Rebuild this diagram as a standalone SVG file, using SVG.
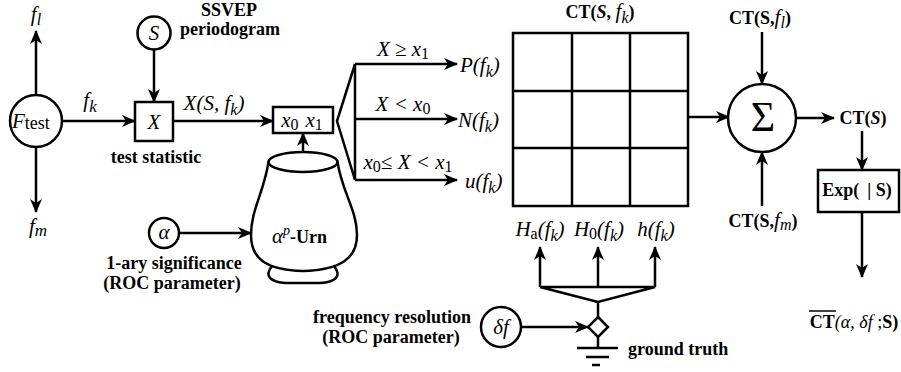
<svg xmlns="http://www.w3.org/2000/svg" width="901" height="372" viewBox="0 0 901 372" font-family="'Liberation Serif', 'Times New Roman', 'DejaVu Serif', serif">
<defs>
<style>
.ln{stroke:#000;stroke-width:2.5;fill:none;stroke-linecap:butt}
.ar{stroke:#000;stroke-width:2.5;fill:none;marker-end:url(#ah)}
.sh{stroke:#000;stroke-width:2.5;fill:#fff}
text{font-family:'Liberation Serif','Times New Roman','DejaVu Serif',serif;fill:#000}
.b{font-weight:bold;font-size:18px}
.m{font-style:italic;font-size:21px}
.up{font-style:normal}
.it{font-style:italic}
.s{font-size:16px}
</style>
<marker id="ah" viewBox="0 0 14 12" refX="13" refY="6" markerWidth="14" markerHeight="12" markerUnits="userSpaceOnUse" orient="auto">
<path d="M0,0 L14,6 L0,12 L4,6 z" fill="#000"/>
</marker>
</defs>

<g id="connectors">
<line class="ar" x1="36" y1="95" x2="36" y2="31"/>
<line class="ar" x1="36" y1="147" x2="36" y2="212"/>
<line class="ar" x1="62" y1="121" x2="135" y2="121"/>
<line class="ar" x1="154" y1="50" x2="154" y2="102"/>
<line class="ar" x1="173" y1="121" x2="273" y2="121"/>
<line class="ar" x1="303" y1="166" x2="303" y2="133"/>
<polyline class="ln" points="355,64 337,121 355,180"/>
<line class="ln" x1="355" y1="64" x2="355" y2="180"/>
<line class="ar" x1="355" y1="64" x2="457" y2="64"/>
<line class="ar" x1="355" y1="119" x2="457" y2="119"/>
<line class="ar" x1="355" y1="180" x2="457" y2="180"/>
<line class="ar" x1="688" y1="117" x2="729" y2="117"/>
<line class="ar" x1="762" y1="32" x2="762" y2="84"/>
<line class="ar" x1="762" y1="206" x2="762" y2="152"/>
<line class="ar" x1="796" y1="118" x2="834" y2="118"/>
<line class="ar" x1="862" y1="131" x2="862" y2="170"/>
<line class="ar" x1="862" y1="212" x2="862" y2="277"/>
<line class="ar" x1="179" y1="233" x2="251" y2="233"/>
<line class="ar" x1="521" y1="327" x2="588" y2="327"/>
<line class="ln" x1="598" y1="317" x2="598" y2="302"/>
<polygon class="ln" points="598,302 540,287 655,287"/>
<line class="ar" x1="540" y1="287" x2="540" y2="247"/>
<line class="ar" x1="598" y1="287" x2="598" y2="247"/>
<line class="ar" x1="655" y1="287" x2="655" y2="247"/>
<line class="ln" x1="598" y1="337" x2="598" y2="348"/>
<line class="ln" x1="577" y1="348" x2="618" y2="348"/>
<line class="ln" x1="586" y1="357" x2="609" y2="357"/>
<line class="ln" x1="592" y1="365" x2="600" y2="365"/>
</g>

<g id="ftest">
<circle class="sh" cx="36" cy="121" r="26"/>
<text x="12" y="128" class="m" font-size="23">F<tspan class="up" font-size="18" dy="1">test</tspan></text>
</g>
<text x="36" y="21" class="m" font-size="23" text-anchor="middle">f<tspan class="s" dy="4">l</tspan></text>
<text x="38" y="233" class="m" font-size="23" text-anchor="middle">f<tspan font-size="17" dy="3">m</tspan></text>
<text x="90" y="107" class="m" font-size="23" text-anchor="middle">f<tspan font-size="17" dy="5">k</tspan></text>

<g id="S">
<circle class="sh" cx="154" cy="33" r="16.5"/>
<text x="154" y="40" class="m" text-anchor="middle">S</text>
</g>
<text x="229" y="16" class="b" text-anchor="middle">SSVEP</text>
<text x="230" y="35" class="b" text-anchor="middle">periodogram</text>

<g id="X">
<rect class="sh" x="135" y="102" width="38" height="39"/>
<text x="154" y="129" class="m" font-size="22" text-anchor="middle">X</text>
</g>
<text x="156" y="163" class="b" text-anchor="middle">test statistic</text>
<text x="214" y="110" class="m" text-anchor="middle">X(S, f<tspan class="s" dy="5">k</tspan><tspan dy="-5">)</tspan></text>

<g id="thresholds">
<rect class="sh" x="273" y="107" width="60" height="26"/>
<text x="302" y="127" class="m" text-anchor="middle">x<tspan class="up s" dy="3">0</tspan><tspan dx="7" dy="-3">x</tspan><tspan class="up s" dy="3">1</tspan></text>
</g>

<g id="urn">
<path class="sh" d="M268.5,162 C264,192 251,210 251,235 C251,258 265,270 303,271 C341,270 357,258 357,235 C357,210 342,192 337.5,162"/>
<ellipse class="sh" cx="303" cy="162" rx="34.5" ry="10"/>
<path class="ln" d="M272,266 C264,276 270,282 286,283 L320,283 C336,282 342,276 334,266"/>
<text x="272" y="243" class="b"><tspan class="it" font-weight="normal" font-size="21">α</tspan><tspan class="it" font-weight="normal" font-size="14" dy="-8">p</tspan><tspan dy="8">-Urn</tspan></text>
</g>

<g id="alpha">
<circle class="sh" cx="164" cy="233" r="15"/>
<text x="164" y="239" class="m" font-size="19" text-anchor="middle">α</text>
</g>
<text x="174" y="269" class="b" text-anchor="middle">1-ary significance</text>
<text x="172" y="289" class="b" text-anchor="middle">(ROC parameter)</text>

<text x="403" y="56" class="m" text-anchor="middle">X ≥ x<tspan class="up s" dy="3">1</tspan></text>
<text x="403" y="111" class="m" text-anchor="middle">X &lt; x<tspan class="up s" dy="3">0</tspan></text>
<text x="408" y="169" class="m" text-anchor="middle">x<tspan class="up s" dy="3">0</tspan><tspan dy="-3">≤ X &lt; x</tspan><tspan class="up s" dy="3">1</tspan></text>
<text x="460" y="72" class="m">P(f<tspan class="s" dy="5">k</tspan><tspan dy="-5">)</tspan></text>
<text x="458" y="127" class="m">N(f<tspan class="s" dy="5">k</tspan><tspan dy="-5">)</tspan></text>
<text x="465" y="188" class="m">u(f<tspan class="s" dy="5">k</tspan><tspan dy="-5">)</tspan></text>

<g id="grid">
<rect class="ln" x="513" y="33" width="175" height="173"/>
<line class="ln" x1="572" y1="33" x2="572" y2="206"/>
<line class="ln" x1="630" y1="33" x2="630" y2="206"/>
<line class="ln" x1="513" y1="91" x2="688" y2="91"/>
<line class="ln" x1="513" y1="148" x2="688" y2="148"/>
</g>
<text x="600" y="18" class="b" text-anchor="middle">CT(<tspan class="it">S</tspan>, <tspan class="it" font-weight="normal" font-size="21">f</tspan><tspan class="it s" font-weight="normal" dy="5">k</tspan><tspan dy="-5">)</tspan></text>

<text x="540" y="236" class="m" text-anchor="middle">H<tspan class="up s" dy="3">a</tspan><tspan dy="-3">(f</tspan><tspan class="s" dy="5">k</tspan><tspan dy="-5">)</tspan></text>
<text x="599" y="236" class="m" text-anchor="middle">H<tspan class="up s" dy="3">0</tspan><tspan dy="-3">(f</tspan><tspan class="s" dy="5">k</tspan><tspan dy="-5">)</tspan></text>
<text x="656" y="236" class="m" text-anchor="middle">h(f<tspan class="s" dy="5">k</tspan><tspan dy="-5">)</tspan></text>

<g id="deltaf">
<circle class="sh" cx="501" cy="327" r="20"/>
<text x="501" y="334" class="m" text-anchor="middle">δf</text>
</g>
<text x="392" y="323" class="b" text-anchor="middle">frequency resolution</text>
<text x="391" y="343" class="b" text-anchor="middle">(ROC parameter)</text>

<g id="diamond">
<polygon class="sh" points="598,317 608,327 598,337 588,327"/>
</g>
<text x="628" y="355" class="b">ground truth</text>

<g id="sigma">
<circle class="sh" cx="762" cy="118" r="34"/>
<text x="763" y="131" font-size="42" text-anchor="middle">Σ</text>
</g>
<text x="760" y="24" class="b" text-anchor="middle">CT(S,<tspan class="it" font-weight="normal" font-size="21">f</tspan><tspan class="it s" font-weight="normal" dy="4">l</tspan><tspan dy="-4">)</tspan></text>
<text x="763" y="227" class="b" text-anchor="middle">CT(S,<tspan class="it" font-weight="normal" font-size="21">f</tspan><tspan class="it s" font-weight="normal" dy="3">m</tspan><tspan dy="-3">)</tspan></text>
<text x="863" y="124" class="b" text-anchor="middle">CT(<tspan class="it">S</tspan>)</text>

<g id="exp">
<rect class="sh" x="818" y="170" width="81" height="42"/>
<text x="857" y="196" class="b" font-size="17" text-anchor="middle">Exp(<tspan dx="8">| S)</tspan></text>
</g>
<g id="ctbar">
<line x1="809" y1="311" x2="836" y2="311" stroke="#000" stroke-width="1.5"/>
<text x="854" y="328" class="b" text-anchor="middle">CT<tspan class="it" font-weight="normal">(α, δf</tspan><tspan font-weight="normal"> ;</tspan>S)</text>
</g>
</svg>
